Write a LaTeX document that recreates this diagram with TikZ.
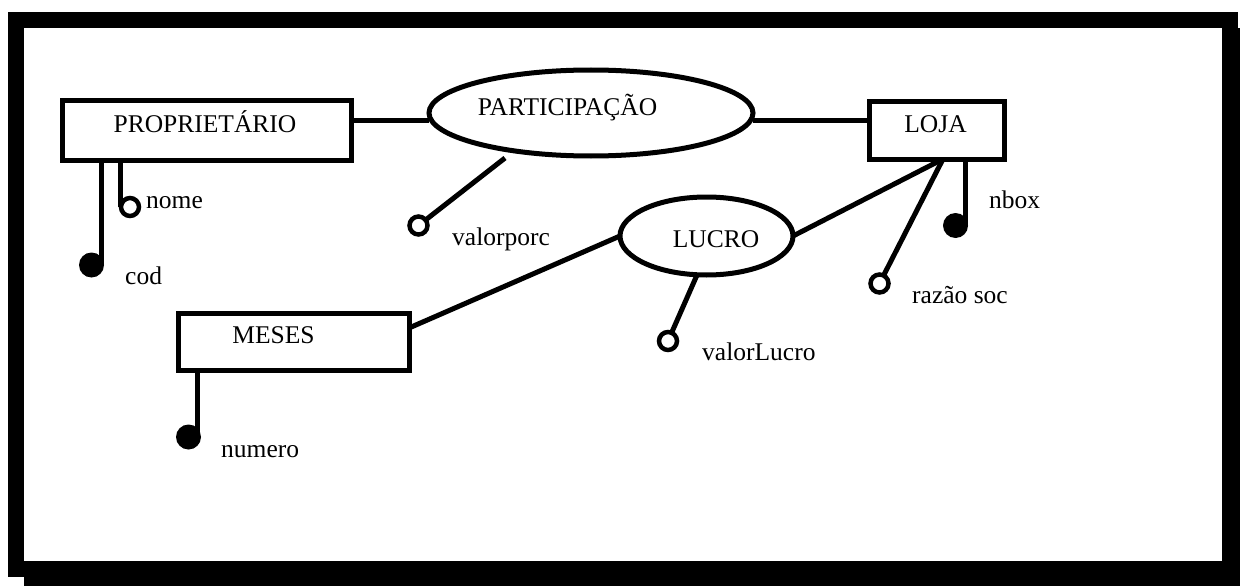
\documentclass[tikz,border=0pt]{standalone}
\usepackage{fontspec}
\setmainfont{Liberation Serif}
\usetikzlibrary{shapes.geometric,backgrounds}
\begin{document}
\begin{tikzpicture}[x=1pt,y=-1pt,
  ent/.style={draw,line width=5pt,rectangle,inner sep=0pt,outer sep=0pt,fill=white},
  rel/.style={draw,line width=5pt,ellipse,inner sep=0pt,outer sep=0pt,fill=white},
  keyattr/.style={circle,fill=black,inner sep=0pt,outer sep=0pt,minimum size=25pt},
  attr/.style={circle,draw,line width=4.5pt,fill=white,inner sep=0pt,outer sep=0pt,minimum size=18pt},
  conn/.style={line width=5pt},
  lbl/.style={inner sep=0pt,font=\fontsize{25.5}{30}\selectfont}]
\useasboundingbox (0,0) rectangle (1240,586);
% frame with shadow
\fill (8,12) rectangle (1238,28);
\fill (8,12) rectangle (24,577);
\fill (1222,28) rectangle (1240,586);
\fill (24,561) rectangle (1240,586);
% entities
\node[ent,minimum width=289pt,minimum height=60pt] (prop) at (206.5,130) {};
\node[ent,minimum width=135pt,minimum height=58pt] (loja) at (936.5,130) {};
\node[ent,minimum width=231pt,minimum height=57pt] (meses) at (293.5,341.5) {};
% relationships
\node[rel,minimum width=324pt,minimum height=86pt] (part) at (591,113) {};
\node[rel,minimum width=173pt,minimum height=78pt] (lucro) at (706.5,236) {};
% attribute markers
\node[keyattr] (cod) at (91.5,265) {};
\node[attr] (nome) at (130,207) {};
\node[attr] (vp) at (418.5,225.5) {};
\node[keyattr] (nbox) at (955.5,225.5) {};
\node[attr] (raz) at (879.5,283.5) {};
\node[attr] (vl) at (668,341) {};
\node[keyattr] (num) at (188.5,437) {};
% texts
\node[lbl,anchor=base] (tprop) at (205,132) {PROPRIETÁRIO};
\node[lbl,anchor=base] (tpart) at (567.5,115) {PARTICIPAÇÃO};
\node[lbl,anchor=base] (tloja) at (935.5,132) {LOJA};
\node[lbl,anchor=base] (tlucro) at (716,247) {LUCRO};
\node[lbl,anchor=base] (tmeses) at (273.5,343) {MESES};
\node[lbl,anchor=base west] (tnome) at (146,208) {nome};
\node[lbl,anchor=base west] (tcod) at (125,284) {cod};
\node[lbl,anchor=base west] (tvp) at (452,245) {valorporc};
\node[lbl,anchor=base west] (tnbox) at (989,208) {nbox};
\node[lbl,anchor=base west] (traz) at (912,303) {razão soc};
\node[lbl,anchor=base west] (tvl) at (702,360) {valorLucro};
\node[lbl,anchor=base west] (tnum) at (221,457) {numero};
\coordinate (vpstart) at (505,158);
\coordinate (lojab) at ([xshift=6.5pt]loja.south);
\begin{scope}[on background layer]
  \draw[conn] ([yshift=10pt]prop.east) -- ([yshift=10pt]prop.east -| part.west);
  \draw[conn] ([yshift=10pt]loja.west) -- ([yshift=10pt]loja.west -| part.east);
  \draw[conn] ([xshift=-105pt]prop.south) -- ([xshift=-105pt]prop.south |- cod.center);
  \draw[conn] ([xshift=-86pt]prop.south) -- ([xshift=-86pt]prop.south |- nome.center);
  \draw[conn] (vpstart) -- (vp.center);
  \draw[conn] (lojab) -- (lucro.east);
  \draw[conn] (lojab) -- (raz.center);
  \draw[conn] ([xshift=29pt]loja.south) -- ([xshift=29pt]loja.south |- nbox.center);
  \draw[conn] ([yshift=13.5pt]meses.east) -- (lucro.west);
  \draw[conn] ([xshift=-9.5pt]lucro.south) -- (vl.center);
  \draw[conn] ([xshift=-96.5pt]meses.south) -- ([xshift=-96.5pt]meses.south |- num.center);
\end{scope}
\end{tikzpicture}
\end{document}
